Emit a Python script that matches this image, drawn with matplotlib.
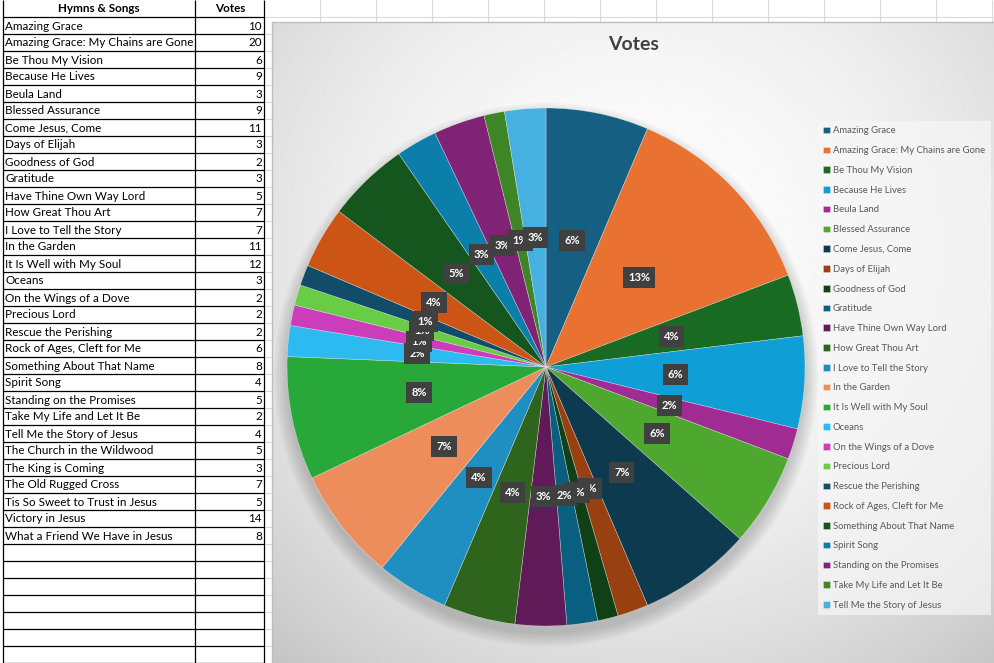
import colorsys

import numpy as np
import matplotlib
matplotlib.use("Agg")
import matplotlib.pyplot as plt
from matplotlib.patches import Circle

# worksheet data (A1:B32)
header = ["Hymns & Songs", "Votes"]
hymns = [
    "Amazing Grace", "Amazing Grace: My Chains are Gone", "Be Thou My Vision",
    "Because He Lives", "Beula Land", "Blessed Assurance", "Come Jesus, Come",
    "Days of Elijah", "Goodness of God", "Gratitude", "Have Thine Own Way Lord",
    "How Great Thou Art", "I Love to Tell the Story", "In the Garden",
    "It Is Well with My Soul", "Oceans", "On the Wings of a Dove", "Precious Lord",
    "Rescue the Perishing", "Rock of Ages, Cleft for Me", "Something About That Name",
    "Spirit Song", "Standing on the Promises", "Take My Life and Let It Be",
    "Tell Me the Story of Jesus", "The Church in the Wildwood", "The King is Coming",
    "The Old Rugged Cross", "Tis So Sweet to Trust in Jesus", "Victory in Jesus",
    "What a Friend We Have in Jesus",
]
votes = [10, 20, 6, 9, 3, 9, 11, 3, 2, 3, 5, 7, 7, 11, 12, 3, 2, 2, 2, 6, 8, 4, 5, 2, 4,
         5, 3, 7, 5, 14, 8]

# the chart's series only covers the first 25 rows
n_chart = 25
chart_title = "Votes"

# Office theme accents + the shades Excel cycles through after six points
accents = ['#156082', '#E97132', '#196B24', '#0F9ED5', '#A02B93', '#4EA72E']
variations = [(1.0, 0.0), (0.6, 0.0), (0.8, 0.2), (0.8, 0.0), (0.6, 0.4)]


def excel_shade(hex_color, lum_mod, lum_off=0.0):
    r, g, b = matplotlib.colors.to_rgb(hex_color)
    h, l, s = colorsys.rgb_to_hls(r, g, b)
    l = min(1.0, l * lum_mod + lum_off)
    return colorsys.hls_to_rgb(h, l, s)


colors = [excel_shade(accents[i % 6], *variations[i // 6]) for i in range(n_chart)]

W, H = 995, 663
fig = plt.figure(figsize=(W / 100, H / 100), dpi=100)
fig.patch.set_facecolor('white')

# --- worksheet ---
sheet = fig.add_axes([0, 0, 1, 1])
sheet.axis('off')

row_h = 17
row_lines = np.arange(row_h, H + row_h, row_h)

# faint gridlines of the empty cells
sheet.hlines(row_lines, 264, W, color='#DADADA', lw=0.8, zorder=0)
sheet.vlines(np.arange(320, W + 1, 56), 0, 22, color='#DADADA', lw=0.8, zorder=0)

# table borders
sheet.hlines(row_lines, 3, 264, color='black', lw=0.9, zorder=2)
sheet.vlines([3, 195, 264], 0, H, color='black', lw=0.9, zorder=2)

table_font = dict(family=['Lato', 'DejaVu Sans'], fontsize=8.4, color='black', zorder=3)
sheet.text(99, row_h / 2, header[0], ha='center', va='center', fontweight='bold', **table_font)
sheet.text(230, row_h / 2, header[1], ha='center', va='center', fontweight='bold', **table_font)
for i, (name, v) in enumerate(zip(hymns, votes)):
    y = row_h * (i + 1) + row_h / 2 + 0.5
    sheet.text(5, y, name, ha='left', va='center', **table_font)
    sheet.text(262, y, str(v), ha='right', va='center', **table_font)

# --- chart area with radial gradient fill ---
cx0, cy0 = 272, 22
yy, xx = np.mgrid[cy0:H + 1, cx0:W + 1]
d2 = ((xx - 640) / 430.0) ** 2 + ((yy - 250) / 420.0) ** 2
shade = 0.99 - 0.13 * np.clip(d2, 0, 2.2)
sheet.imshow(shade, cmap='gray', vmin=0, vmax=1, extent=[cx0, W, H, cy0],
             aspect='auto', interpolation='bilinear', zorder=1)
sheet.plot([cx0, cx0, W], [H, cy0, cy0], color='#BDBDBD', lw=1.0, zorder=2)
sheet.set_xlim(0, W)
sheet.set_ylim(H, 0)

sheet.text(634, 45, chart_title, ha='center', va='center', fontsize=14, fontweight='bold',
           color='#404040', family=['Lato', 'DejaVu Sans'], zorder=3)

# --- pie ---
cx, cy, r = 546, 367, 259
pie_ax = fig.add_axes([(cx - r) / W, 1 - (cy + r) / H, 2 * r / W, 2 * r / H])

# soft drop shadow
for k in np.linspace(1.05, 1.0, 8):
    pie_ax.add_patch(Circle((0, -0.03), k, color='black', alpha=0.025, lw=0, clip_on=False))

wedges, _, pcts = pie_ax.pie(
    votes[:n_chart], colors=colors, startangle=90, counterclock=False,
    autopct='%1.0f%%', pctdistance=0.5,
    wedgeprops=dict(edgecolor=(1, 1, 1, 0.5), linewidth=0.4),
    textprops=dict(color='white', fontsize=8, fontweight='bold',
                   family=['Lato', 'DejaVu Sans']),
)
for t in pcts:
    t.set_bbox(dict(boxstyle='square,pad=0.45', fc='#404040', ec='none'))
pie_ax.set_xlim(-1, 1)
pie_ax.set_ylim(-1, 1)

leg = fig.legend(
    wedges, hymns[:n_chart], loc='upper left', bbox_to_anchor=(813 / W, 1 - 116 / H),
    prop=dict(family=['Lato', 'DejaVu Sans'], size=6.8),
    handlelength=0.7, handleheight=0.7, handletextpad=0.3,
    labelspacing=1.14, borderpad=0.6, frameon=True, fancybox=False,
)
leg.get_frame().set(facecolor='#F7F7F7', edgecolor='none', alpha=0.7)
for t in leg.get_texts():
    t.set_color('#595959')

fig.savefig('out.png', dpi=100)
